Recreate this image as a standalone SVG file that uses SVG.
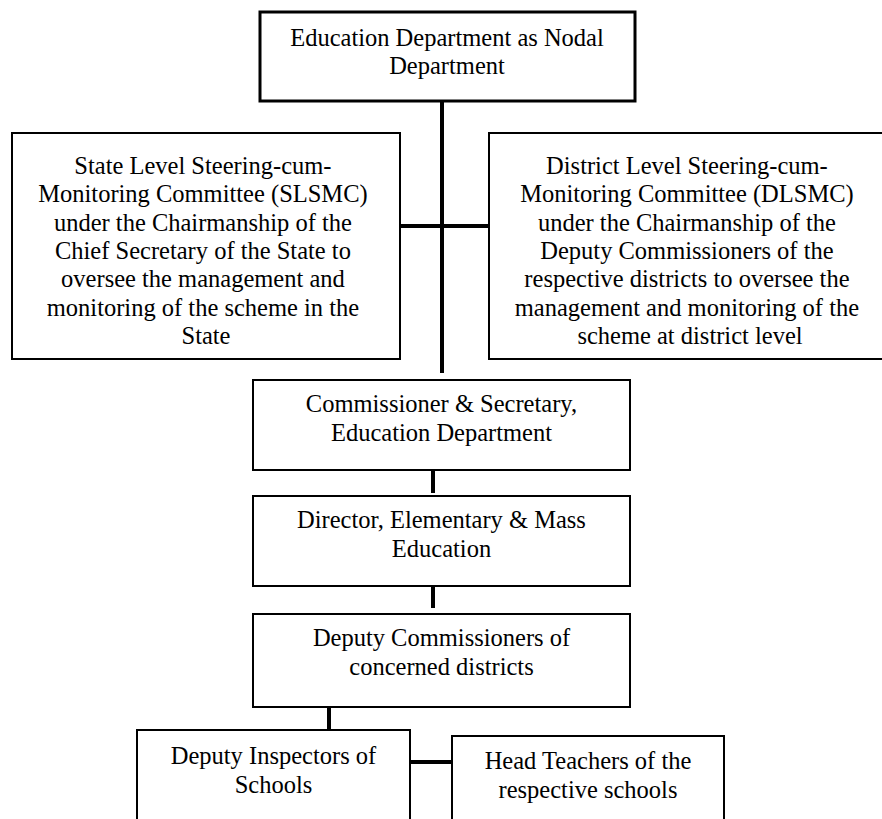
<svg xmlns="http://www.w3.org/2000/svg" width="882" height="819" viewBox="0 0 882 819">
  <style>
    .box { fill: #ffffff; stroke: #000000; stroke-width: 2; }
    .box.main { stroke-width: 3; }
    .lbl { font-family: "Liberation Serif", "Times New Roman", serif; font-size: 24.5px; fill: #000000; text-anchor: middle; }
    .link { stroke: #000000; stroke-width: 4; fill: none; }
  </style>
  <rect x="0" y="0" width="882" height="819" fill="#ffffff"/>

  <g id="connectors">
    <line class="link" x1="442" y1="101" x2="442" y2="373"/>
    <line class="link" x1="400" y1="226" x2="489" y2="226"/>
    <line class="link" x1="433" y1="470" x2="433" y2="493"/>
    <line class="link" x1="433" y1="586" x2="433" y2="608"/>
    <line class="link" x1="329" y1="707" x2="329" y2="730"/>
    <line class="link" x1="410" y1="762" x2="452" y2="762"/>
  </g>

  <g id="nodal-dept">
    <rect class="box main" x="260" y="12" width="375" height="89"/>
    <text class="lbl" x="447" y="46">Education Department as Nodal</text>
    <text class="lbl" x="447" y="74">Department</text>
  </g>

  <g id="slsmc">
    <rect class="box" x="12" y="133" width="388" height="226"/>
    <text class="lbl" x="206">
      <tspan x="206" y="174">State Level Steering-cum-</tspan>
      <tspan x="206" y="202.3">Monitoring Committee (SLSMC)</tspan>
      <tspan x="206" y="230.6">under the Chairmanship of the</tspan>
      <tspan x="206" y="259">Chief Secretary of the State to</tspan>
      <tspan x="206" y="287.3">oversee the management and</tspan>
      <tspan x="206" y="315.6">monitoring of the scheme in the</tspan>
      <tspan x="206" y="344">State</tspan>
    </text>
  </g>

  <g id="dlsmc">
    <rect class="box" x="489" y="133" width="402" height="226"/>
    <text class="lbl" x="690">
      <tspan x="690" y="174">District Level Steering-cum-</tspan>
      <tspan x="690" y="202.3">Monitoring Committee (DLSMC)</tspan>
      <tspan x="690" y="230.6">under the Chairmanship of the</tspan>
      <tspan x="690" y="259">Deputy Commissioners of the</tspan>
      <tspan x="690" y="287.3">respective districts to oversee the</tspan>
      <tspan x="690" y="315.6">management and monitoring of the</tspan>
      <tspan x="690" y="344">scheme at district level</tspan>
    </text>
  </g>

  <g id="commissioner">
    <rect class="box" x="253" y="380" width="377" height="90"/>
    <text class="lbl" x="441.5" y="411.5">Commissioner &amp; Secretary,</text>
    <text class="lbl" x="441.5" y="440.5">Education Department</text>
  </g>

  <g id="director">
    <rect class="box" x="253" y="496" width="377" height="90"/>
    <text class="lbl" x="441.5" y="528">Director, Elementary &amp; Mass</text>
    <text class="lbl" x="441.5" y="557">Education</text>
  </g>

  <g id="deputy-commissioners">
    <rect class="box" x="253" y="614" width="377" height="93"/>
    <text class="lbl" x="441.5" y="646">Deputy Commissioners of</text>
    <text class="lbl" x="441.5" y="675">concerned districts</text>
  </g>

  <g id="deputy-inspectors">
    <rect class="box" x="137" y="730" width="273" height="110"/>
    <text class="lbl" x="273.5" y="764">Deputy Inspectors of</text>
    <text class="lbl" x="273.5" y="793">Schools</text>
  </g>

  <g id="head-teachers">
    <rect class="box" x="452" y="736" width="272" height="110"/>
    <text class="lbl" x="588" y="769">Head Teachers of the</text>
    <text class="lbl" x="588" y="798">respective schools</text>
  </g>
</svg>
